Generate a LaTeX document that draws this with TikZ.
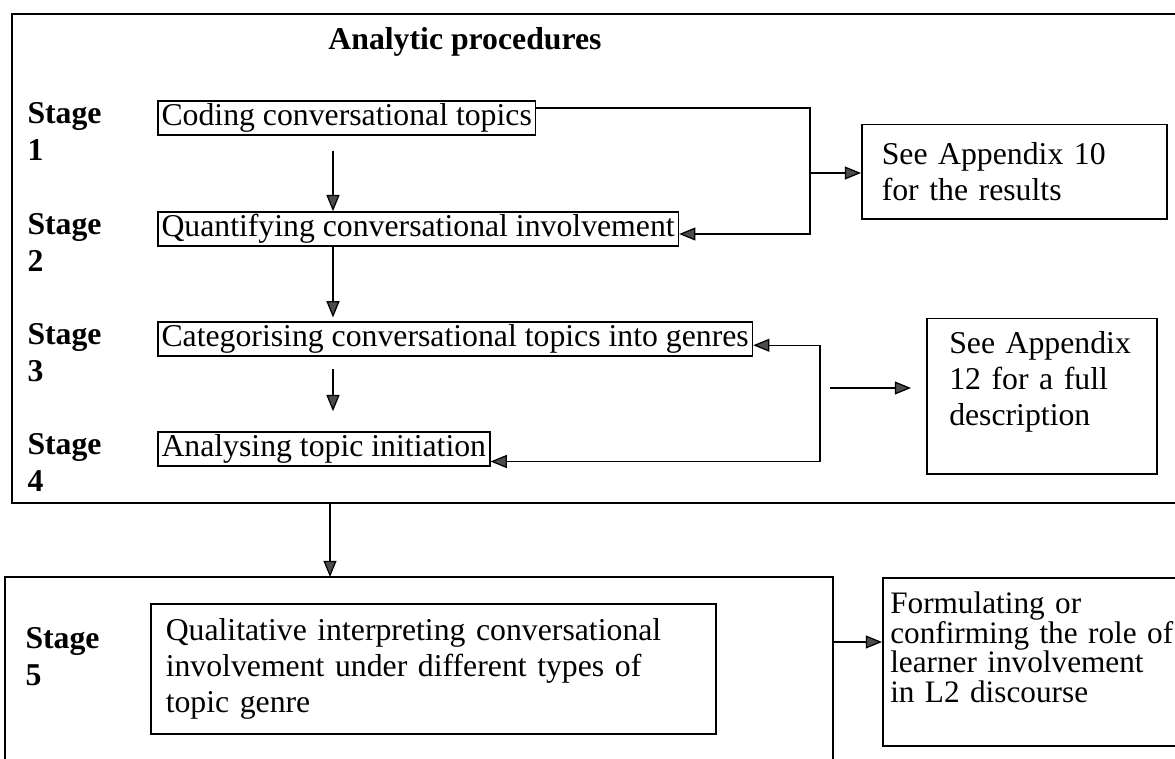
\documentclass[tikz,border=0pt]{standalone}
\usepackage{fontspec}
\setmainfont{Liberation Serif}
\usetikzlibrary{arrows.meta,positioning}

\newcommand{\boxfont}{\fontsize{12.7}{14.4}\selectfont}
\newcommand{\stagefont}{\fontsize{12.7}{14.8}\selectfont\bfseries}

\begin{document}
\begin{tikzpicture}[
  x=0.4pt, y=-0.4pt,
  stepbox/.style={rectangle, draw, line width=0.6pt, inner xsep=1.5pt, inner ysep=0pt, minimum height=13.6pt, anchor=west, font=\boxfont},
  notebox/.style={rectangle, draw, line width=0.6pt, anchor=north west, align=left, font=\boxfont},
  stagelbl/.style={anchor=north west, align=left, inner sep=0pt, font=\stagefont},
  arrow/.style={-{Triangle[length=6.5pt, width=5.2pt, fill=gray!60!black]}, line width=0.5pt},
  dblarrow/.style={{Triangle[length=6.5pt, width=5.2pt, fill=gray!60!black]}-{Triangle[length=6.5pt, width=5.2pt, fill=gray!60!black]}, line width=0.5pt},
  line/.style={line width=0.6pt}
]
\useasboundingbox (0,0) rectangle (1175,759);
\clip (0,0) rectangle (1175,759);

% Analytic procedures frame
\draw[line] (12,14) rectangle (1200,503);
\node[font=\boxfont\bfseries] (title) at (465,42) {Analytic procedures};

% Stages 1-4
\node[stagelbl] (st1) at (27,102) {Stage\\1};
\node[stepbox] (coding) at (157,118) {Coding conversational topics};
\node[stagelbl] (st2) at (27,213) {Stage\\2};
\node[stepbox] (quant) at (157,229) {Quantifying conversational involvement};
\node[stagelbl] (st3) at (27,323) {Stage\\3};
\node[stepbox] (categ) at (157,339) {Categorising conversational topics into genres};
\node[stagelbl] (st4) at (27,433) {Stage\\4};
\node[stepbox] (analys) at (157,449) {Analysing topic initiation};

% Down arrows
\coordinate (axis) at (333,0);
\draw[arrow, shorten <=6pt] (coding.south -| axis) -- (quant.north -| axis);
\draw[arrow, shorten >=1.5pt] (quant.south -| axis) -- (categ.north -| axis);
\draw[arrow, shorten <=5pt, shorten >=8pt] (categ.south -| axis) -- (analys.north -| axis);

% Appendix 10 bracket
\coordinate (br1) at (810,173);
\draw[arrow] ([yshift=4pt]coding.east) -| (br1) |- ([yshift=-2pt]quant.east);
\node[notebox, inner xsep=8pt, text width=106pt, minimum height=37.6pt] (app10) at (861,124) {See Appendix 10\\for the results};
\draw[arrow] (br1) -- (br1 -| app10.west);

% Appendix 12 bracket
\coordinate (br2) at (820,400);
\draw[dblarrow] ([yshift=-2.5pt]categ.east) -| (br2) |- ([yshift=-5pt]analys.east);
\node[notebox, inner xsep=9pt, text width=74pt, minimum height=62pt] (app12) at (926,318) {See Appendix\\12 for a full\\description\\~};
\coordinate (br2tail) at (830,388);
\draw[arrow, shorten >=6pt] (br2tail) -- (br2tail -| app12.west);

% Stage 5
\coordinate (procbot) at (330,503);
\coordinate (s5top) at (330,577);
\draw[arrow] (procbot) -- (s5top);
\draw[line] (5,577) rectangle (833,800);
\node[stagelbl] (st5) at (25,627) {Stage\\5};
\node[notebox, inner xsep=6pt, text width=214pt, minimum height=52pt] (interp) at (150,603) {Qualitative interpreting conversational\\involvement under different types of\\topic genre};

% Outcome
\node[notebox, inner xsep=3pt, text width=121pt, minimum height=67.2pt, font=\fontsize{12.5}{11.8}\selectfont] (formul) at (882,577) {Formulating or\\confirming the role of\\learner involvement\\in L2 discourse\\~};
\coordinate (s5right) at (833,642);
\draw[arrow] (s5right) -- (s5right -| formul.west);
\end{tikzpicture}
\end{document}
